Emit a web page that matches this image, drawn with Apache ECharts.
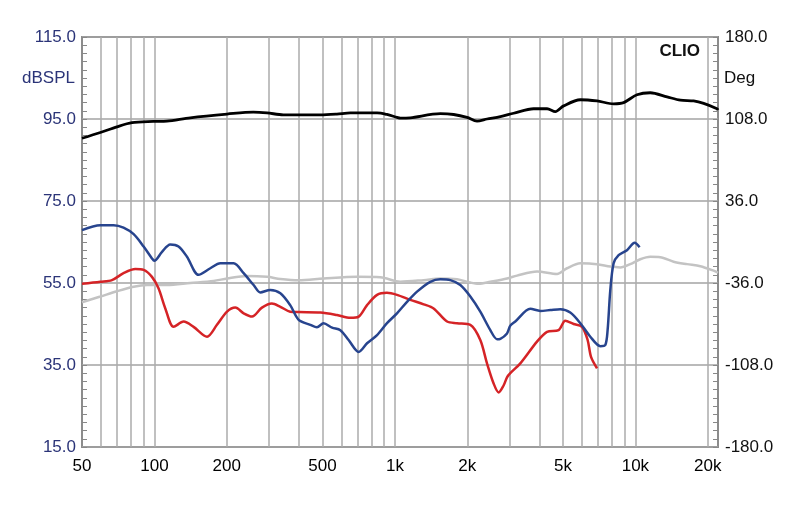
<!DOCTYPE html>
<html><head><meta charset="utf-8">
<script src="https://cdn.jsdelivr.net/npm/echarts@6/dist/echarts.min.js"></script>
<style>html,body{margin:0;padding:0;background:#fff}#c{width:800px;height:506px}</style>
</head><body><div id="c"></div>
<script>
// X axis (Hz) tick / label frequencies
const gridFreqs = [60,70,80,90,100,200,300,400,500,600,700,800,900,1000,2000,3000,4000,5000,6000,7000,8000,9000,10000,20000];
const labelFreqs = [50,100,200,500,1000,2000,5000,10000,20000];
const freqMin = 50, freqMax = 22050;

// Black curve (dBSPL)
const blackFreq = [50,59.6,69.9,80.7,99,112.8,141,200.5,257.8,294,343.6,490,574,653,843,927,1020,1053,1159,1545,1755,1995,2195,2415,2744,3116,3773,4290,4645,5029,5902,6925,8118,8932,10150,11530,13540,15380,17460,19220,21840,22050];
const blackDb   = [90.3,91.7,93.1,94.1,94.4,94.5,95.3,96.2,96.7,96.5,96.0,96.0,96.2,96.5,96.5,96.1,95.4,95.2,95.3,96.3,96.1,95.4,94.5,95.0,95.6,96.4,97.5,97.5,96.8,98.2,99.7,99.4,98.7,99.0,100.9,101.4,100.4,99.6,99.4,98.8,97.5,97.2];

// Blue curve
const blueFreq = [50,59.6,67.7,74.4,82,90.2,97.7,99.9,107.6,116.4,126,136.6,152.6,170.8,188,213.5,235,258.5,275.6,303,334,367,398,445,474,505,548,593,642,707,766,843,927,1020,1123,1236,1404,1545,1700,1871,2059,2265,2493,2658,2744,2925,3019,3167,3656,4023,4428,4873,5359,5902,6494,7147,7496,7663,7865,8118,8514,9226,9927,10410];
const blueDb   = [67.9,69.1,69.1,68.5,66.9,63.9,61.0,60.4,62.6,64.4,63.9,61.4,57.0,58.6,59.8,59.8,57.4,54.5,52.7,53.3,52.5,49.6,46.0,44.8,44.2,45.2,44.1,43.5,41.1,38.2,40.3,42.3,45.2,47.6,50.4,52.9,55.3,55.9,55.7,54.5,51.7,48.0,43.5,41.3,41.4,42.7,44.6,45.6,48.7,48.2,48.4,48.6,47.8,45.2,41.9,39.6,39.9,43.5,53.3,59.8,61.8,63.0,64.8,63.7];

// Red curve
const redFreq = [50,59.6,66.6,74.4,83.3,90.2,97.7,104,111,120.2,132.3,145.5,165.5,182,200.5,217,235,254.6,280,308,334,367,398,490,574,653,707,766,843,927,1020,1159,1317,1449,1648,1813,2059,2265,2415,2573,2700,2831,2925,3019,3323,3898,4290,4794,5111,5535,5997,6328,6538,6925];
const redDb   = [54.8,55.3,55.7,57.4,58.4,58.2,56.5,53.7,48.8,44.3,45.6,44.3,41.9,44.8,48.0,49.0,47.6,46.8,49.0,50.0,49.2,48.0,47.9,47.8,47.2,46.5,46.8,49.6,52.1,52.6,52.1,50.9,49.8,48.8,45.6,45.2,44.8,41.1,35.4,30.5,28.3,30.0,32.0,33.0,35.4,40.7,43.1,43.5,45.8,45.0,44.3,41.1,37.0,34.2];

// Gray curve
const grayFreq = [50,59.6,69.9,82,93.2,112.8,141,176.3,200.5,242.7,294,334,398,505,696,870,1053,1317,1545,1813,2059,2229,2493,2925,3219,3898,4722,5194,5902,6925,7865,8655,9522,10480,11530,12690,14420,16390,18620,21140,22050];
const grayDb   = [50.3,51.7,53.0,54.1,54.5,54.5,55.0,55.5,56.1,56.7,56.5,56.0,55.7,56.1,56.5,56.4,55.3,55.7,56.1,55.9,55.1,54.8,55.3,56.1,56.8,57.8,57.2,58.6,59.8,59.6,59.0,58.8,59.6,60.8,61.4,61.3,60.2,59.6,59.1,58.0,57.5];

// Axis ranges / ticks
const leftMin = 15, leftMax = 115, leftStep = 20;
const rightMin = -180, rightMax = 180, rightStep = 72;

const lg = Math.log10;
const pts = (f, v) => f.map((x, i) => [lg(x), v[i]]);
const FONT = '"Liberation Sans", Arial, sans-serif';

const chart = echarts.init(document.getElementById('c'), null, {renderer: 'canvas'});
const lineSeries = (name, f, v, color, z, w) => ({
  name, type: 'line', xAxisIndex: 0, yAxisIndex: 0, data: pts(f, v),
  showSymbol: false, smooth: 0.3, z,
  lineStyle: {color, width: w}, emphasis: {disabled: true}
});

chart.setOption({
  animation: false,
  backgroundColor: '#fff',
  grid: {left: 82, right: 82, top: 37, bottom: 59, show: true, borderColor: '#8c8c8c', borderWidth: 2, backgroundColor: '#fff'},
  xAxis: {
    type: 'value', min: lg(freqMin), max: lg(freqMax),
    axisLine: {show: false},
    axisTick: {show: false, customValues: gridFreqs.map(lg)},
    splitLine: {show: true, lineStyle: {color: '#ababab', width: 1.5}},
    axisLabel: {
      customValues: labelFreqs.map(lg), color: '#000', fontSize: 17, fontFamily: FONT, margin: 11,
      formatter: v => { const f = Math.round(Math.pow(10, v)); return f >= 1000 ? (f / 1000) + 'k' : String(f); }
    }
  },
  yAxis: [
    {
      type: 'value', position: 'left', min: leftMin, max: leftMax, interval: leftStep,
      axisLine: {show: false},
      axisTick: {show: true, inside: true, length: 5, lineStyle: {color: '#888'}},
      minorTick: {show: true, splitNumber: 10, length: 5, lineStyle: {color: '#888'}},
      splitLine: {show: true, lineStyle: {color: '#a3a3a3', width: 1.5}},
      axisLabel: {formatter: v => v.toFixed(1), color: '#2b3478', fontSize: 17, fontFamily: FONT, margin: 6}
    },
    {
      type: 'value', position: 'right', min: rightMin, max: rightMax, interval: rightStep,
      axisLine: {show: false},
      axisTick: {show: true, inside: true, length: 5, lineStyle: {color: '#888'}},
      minorTick: {show: true, splitNumber: 10, length: 5, lineStyle: {color: '#888'}},
      splitLine: {show: false},
      axisLabel: {formatter: v => v.toFixed(1), color: '#111', fontSize: 17, fontFamily: FONT, margin: 7}
    }
  ],
  graphic: [
    {type: 'text', x: 75, y: 78, z: 10, style: {text: 'dBSPL', align: 'right', verticalAlign: 'middle', fill: '#2b3478', font: '17px ' + FONT}},
    {type: 'text', x: 724, y: 78, z: 10, style: {text: 'Deg', align: 'left', verticalAlign: 'middle', fill: '#111', font: '17px ' + FONT}},
    {type: 'text', x: 700, y: 51, z: 10, style: {text: 'CLIO', align: 'right', verticalAlign: 'middle', fill: '#111', font: 'bold 17px ' + FONT}}
  ],
  series: [
    lineSeries('gray', grayFreq, grayDb, '#c3c3c3', 2, 2.5),
    lineSeries('red', redFreq, redDb, '#d52326', 3, 2.5),
    lineSeries('blue', blueFreq, blueDb, '#27448e', 4, 2.5),
    lineSeries('black', blackFreq, blackDb, '#000000', 5, 2.8)
  ]
});
</script>
</body></html>
